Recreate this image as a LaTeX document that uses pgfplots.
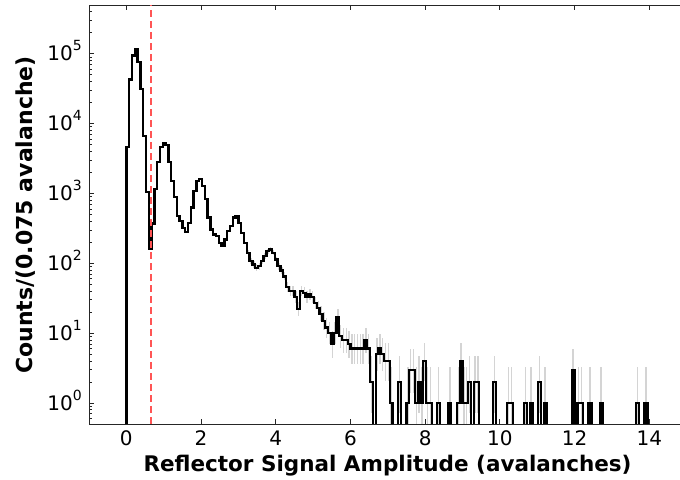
\documentclass[border=0pt]{standalone}
\usepackage{fontspec}
\setmainfont{DejaVu Sans}
\usepackage{pgfplots}
\pgfplotsset{compat=1.18}
\usepackage{pgfplotstable}
\pgfplotstableread{
x n
-0.075 0.1
0.000 4600
0.075 42700
0.150 94600
0.225 115000
0.300 76000
0.375 31400
0.450 6700
0.525 1040
0.600 162
0.675 373
0.750 1150
0.825 2810
0.900 4610
0.975 5270
1.050 4900
1.125 2810
1.200 1500
1.275 900
1.350 475
1.425 403
1.500 324
1.575 280
1.650 382
1.725 627
1.800 1090
1.875 1510
1.950 1600
2.025 1280
2.100 826
2.175 451
2.250 306
2.325 259
2.400 245
2.475 197
2.550 176
2.625 220
2.700 289
2.775 341
2.850 451
2.925 475
3.000 382
3.075 274
3.150 197
3.225 142
3.300 107
3.375 96
3.450 86
3.525 91
3.600 107
3.675 126
3.750 149
3.825 158
3.900 142
3.975 113
4.050 91
4.125 79
4.200 65
4.275 46
4.350 40
4.425 40
4.500 33
4.575 22
4.650 40
4.725 38
4.800 33
4.875 36
4.950 33
5.025 27
5.100 23
5.175 19
5.250 15
5.325 12
5.400 10
5.475 7
5.550 10
5.625 17
5.700 9
5.775 8
5.850 8
5.925 7
6.000 6
6.075 6
6.150 6
6.225 6
6.300 6
6.375 8
6.450 6
6.525 2
6.600 0.1
6.675 5
6.750 6
6.825 5
6.900 4
6.975 4
7.050 1
7.125 0.1
7.275 2
7.350 0.1
7.500 1
7.575 3
7.650 3
7.725 1
7.800 2
7.875 1
7.950 4
8.025 1
8.100 1
8.175 0.1
8.325 1
8.400 0.1
8.625 1
8.700 0.1
8.850 1
8.925 4
9.000 1
9.075 1
9.150 2
9.225 0.1
9.300 2
9.375 2
9.450 0.1
9.825 2
9.900 0.1
10.200 1
10.275 1
10.350 0.1
10.650 1
10.725 0.1
10.800 1
10.875 0.1
11.025 2
11.100 0.1
11.175 1
11.250 0.1
11.925 3
12.000 0.1
12.075 1
12.150 1
12.225 0.1
12.375 1
12.450 0.1
12.675 1
12.750 0.1
13.650 1
13.725 0.1
13.875 1
13.950 0.1
14.900 0.1
}\hist
% bin centres, counts, upper and lower error
\pgfplotstableread{
xc n ep em
3.2625 142 12.95 11.87
3.3375 107 11.38 10.29
3.4125 96 10.84 9.75
3.4875 86 10.31 9.22
3.5625 91 10.58 9.49
3.6375 107 11.38 10.29
3.7125 126 12.26 11.17
3.7875 149 13.24 12.16
3.8625 158 13.6 12.52
3.9375 142 12.95 11.87
4.0125 113 11.67 10.58
4.0875 91 10.58 9.49
4.1625 79 9.93 8.84
4.2375 65 9.11 8.01
4.3125 46 7.84 6.73
4.3875 40 7.38 6.27
4.4625 40 7.38 6.27
4.5375 33 6.81 5.69
4.6125 22 5.77 4.64
4.6875 40 7.38 6.27
4.7625 38 7.23 6.11
4.8375 33 6.81 5.69
4.9125 36 7.06 5.95
4.9875 33 6.81 5.69
5.0625 27 6.27 5.15
5.1375 23 5.87 4.75
5.2125 19 5.44 4.31
5.2875 15 4.97 3.82
5.3625 12 4.57 3.41
5.4375 10 4.28 3.10
5.5125 7 3.78 2.58
5.5875 10 4.28 3.10
5.6625 17 5.21 4.07
5.7375 9 4.12 2.94
5.8125 8 3.96 2.77
5.8875 8 3.96 2.77
5.9625 7 3.78 2.58
6.0375 6 3.60 2.37
6.1125 6 3.60 2.37
6.1875 6 3.60 2.37
6.2625 6 3.60 2.37
6.3375 6 3.60 2.37
6.4125 8 3.96 2.77
6.4875 6 3.60 2.37
6.5625 2 2.66 1.29
6.7125 5 3.40 2.15
6.7875 6 3.60 2.37
6.8625 5 3.40 2.15
6.9375 4 3.18 1.91
7.0125 4 3.18 1.91
7.0875 1 2.32 0.83
7.3125 2 2.66 1.29
7.5375 1 2.32 0.83
7.6125 3 2.94 1.63
7.6875 3 2.94 1.63
7.7625 1 2.32 0.83
7.8375 2 2.66 1.29
7.9125 1 2.32 0.83
7.9875 4 3.18 1.91
8.0625 1 2.32 0.83
8.1375 1 2.32 0.83
8.3625 1 2.32 0.83
8.6625 1 2.32 0.83
8.8875 1 2.32 0.83
8.9625 4 3.18 1.91
9.0375 1 2.32 0.83
9.1125 1 2.32 0.83
9.1875 2 2.66 1.29
9.3375 2 2.66 1.29
9.4125 2 2.66 1.29
9.8625 2 2.66 1.29
10.2375 1 2.32 0.83
10.3125 1 2.32 0.83
10.6875 1 2.32 0.83
10.8375 1 2.32 0.83
11.0625 2 2.66 1.29
11.2125 1 2.32 0.83
11.9625 3 2.94 1.63
12.1125 1 2.32 0.83
12.1875 1 2.32 0.83
12.4125 1 2.32 0.83
12.7125 1 2.32 0.83
13.6875 1 2.32 0.83
13.9125 1 2.32 0.83
}\errs
\newcommand{\tickfont}{\fontsize{20bp}{24bp}\selectfont}
\begin{document}
\begin{tikzpicture}[x=1bp,y=1bp]
\useasboundingbox (-89,-56) rectangle (591,424);
\clip (-89,-56) rectangle (591,424);
\begin{axis}[
  at={(0,0)}, anchor=south west,
  scale only axis, width=592bp, height=419bp,
  xmin=-1, xmax=14.85,
  ymode=log, ymin=0.5, ymax=5e5,
  axis line style={line width=0.9bp, black!85},
  tick style={black!85, line width=0.8bp},
  tick align=inside,
  major tick length=5bp, minor tick length=2.6bp,
  xtick={0,2,4,6,8,10,12,14},
  xtick pos=both, ytick pos=left,
  xticklabel style={font=\tickfont, inner sep=0pt, anchor=base, yshift=-21.6bp},
  /pgf/number format/assume math mode=true,
  yticklabel={\pgfmathtruncatemacro{\myexp}{round(\tick/ln(10))}10\raisebox{0.5em}{\fontsize{14bp}{15bp}\selectfont\myexp}},
  yticklabel style={font=\tickfont, inner sep=0pt, anchor=base east, yshift=-7.2bp, xshift=-7bp},
  clip=true,
]
\addplot[draw=none, mark=none, forget plot,
  error bars/.cd, y dir=both, y explicit,
  error bar style={line width=1.4bp, color=black!17}, error mark=none]
  table[x=xc, y=n, y error plus=ep, y error minus=em] {\errs};
\addplot[const plot, black, line width=2.3bp, mark=none] table[x=x, y=n] {\hist};
\addplot[color={rgb,255:red,255;green,85;blue,85}, line width=1.5bp, dash pattern=on 7bp off 4bp, mark=none]
  coordinates {(0.66,0.5) (0.66,5e5)};
\end{axis}
\node[rotate=90, anchor=base, font=\fontsize{22bp}{26bp}\selectfont\bfseries] at (-56.5,209) {Counts/(0.075 avalanche)};
\node[anchor=base, font=\fontsize{21.5bp}{25bp}\selectfont\bfseries] at (298.5,-48) {Reflector Signal Amplitude (avalanches)};
\end{tikzpicture}
\end{document}
